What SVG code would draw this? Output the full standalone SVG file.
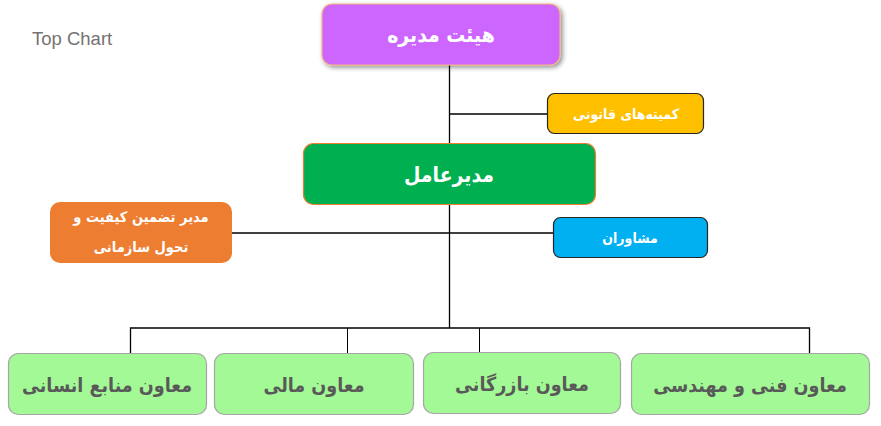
<svg xmlns="http://www.w3.org/2000/svg" width="881" height="426" viewBox="0 0 881 426">
<defs>
<filter id="sh" x="-10%" y="-20%" width="130%" height="150%">
<feGaussianBlur in="SourceAlpha" stdDeviation="2.5"/>
<feOffset dx="2" dy="2" result="b"/>
<feComponentTransfer><feFuncA type="linear" slope="0.45"/></feComponentTransfer>
<feMerge><feMergeNode/><feMergeNode in="SourceGraphic"/></feMerge>
</filter>
</defs>
<style>
.ln{stroke:#000;stroke-width:1.3;fill:none}
.thin{stroke:#000;stroke-width:1;fill:none}
.t{font-family:"DejaVu Sans Condensed","DejaVu Sans",sans-serif;font-stretch:condensed;font-weight:bold;text-anchor:middle;direction:rtl}
.w{fill:#fff}
.g{fill:#595959;font-size:19.5px}
.vp rect{fill:#A3F995;stroke:#A6A6A6;stroke-width:1.2}
</style>
<rect width="881" height="426" fill="#fff"/>
<text x="32" y="45" font-family="Liberation Sans, Arial, sans-serif" font-size="18.5" fill="#767171">Top Chart</text>
<g id="connectors">
<line class="ln" x1="449.5" y1="65" x2="449.5" y2="328"/>
<line class="ln" x1="449.5" y1="114" x2="547" y2="114"/>
<line class="ln" x1="232" y1="233" x2="553" y2="233"/>
<polyline class="ln" points="130.5,353 130.5,328 809.5,328 809.5,353"/>
<line class="thin" x1="347.5" y1="328" x2="347.5" y2="353"/>
<line class="thin" x1="479.5" y1="328" x2="479.5" y2="352"/>
</g>
<g id="board">
<rect x="322" y="4" width="238" height="61" rx="10" fill="#CC66FF" stroke="#F4B183" stroke-width="1.2" filter="url(#sh)"/>
<text class="t w" x="441" y="42" font-size="21">هیئت مدیره</text>
</g>
<g id="legal">
<rect x="547.5" y="93.5" width="156" height="40" rx="7" fill="#FFC000" stroke="#262626" stroke-width="1.2"/>
<text class="t w" x="626" y="119" font-size="14">کمیته‌های قانونی</text>
</g>
<g id="ceo">
<rect x="303.5" y="143.5" width="292" height="61" rx="10" fill="#00B050" stroke="#ED7D31" stroke-width="1.2"/>
<text class="t w" x="449" y="182" font-size="21">مدیرعامل</text>
</g>
<g id="quality">
<rect x="50" y="202" width="182" height="61" rx="10" fill="#ED7D31"/>
<text class="t w" x="141" y="222" font-size="14.5">مدیر تضمین کیفیت و</text>
<text class="t w" x="141" y="252" font-size="14.5">تحول سازمانی</text>
</g>
<g id="advisors">
<rect x="553.5" y="217.5" width="154" height="40" rx="7" fill="#00B0F0" stroke="#262626" stroke-width="1.2"/>
<text class="t w" x="630" y="243" font-size="14">مشاوران</text>
</g>
<g id="hr" class="vp">
<rect x="8.5" y="353.5" width="198" height="61" rx="10"/>
<text class="t g" x="107" y="392">معاون منابع انسانی</text>
</g>
<g id="finance" class="vp">
<rect x="214.5" y="353.5" width="199" height="61" rx="10"/>
<text class="t g" x="314" y="392">معاون مالی</text>
</g>
<g id="commerce" class="vp">
<rect x="423.5" y="352.5" width="197" height="61" rx="10"/>
<text class="t g" x="522" y="391">معاون بازرگانی</text>
</g>
<g id="tech" class="vp">
<rect x="631.5" y="353.5" width="238" height="61" rx="10"/>
<text class="t g" x="750" y="392">معاون فنی و مهندسی</text>
</g>
</svg>
